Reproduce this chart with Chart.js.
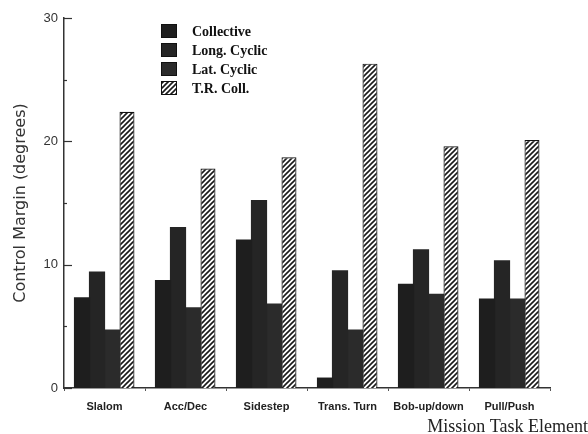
<!DOCTYPE html>
<html>
<head>
<meta charset="utf-8">
<script src="https://cdn.jsdelivr.net/npm/chart.js@4.4.1/dist/chart.umd.min.js"></script>
<style>
  html, body { margin: 0; padding: 0; background: #fff; }
  canvas { display: block; }
</style>
</head>
<body>
<canvas id="c" width="588" height="434"></canvas>
<script>
// Mission task elements and control margins (degrees) per control axis
const tasks = ['Slalom', 'Acc/Dec', 'Sidestep', 'Trans. Turn', 'Bob-up/down', 'Pull/Push'];
const collective = [7.3, 8.7, 12.0, 0.8, 8.4, 7.2];
const longCyclic = [9.4, 13.0, 15.2, 9.5, 11.2, 10.3];
const latCyclic  = [4.7, 6.5, 6.8, 4.7, 7.6, 7.2];
const trColl     = [22.4, 17.8, 18.7, 26.3, 19.6, 20.1];
const labeledTicks = [0, 10, 20, 30];

const canvas = document.getElementById('c');
const ctx = canvas.getContext('2d');

// Diagonal hatch fill for the tail rotor collective bars
function makeHatch() {
  const s = 5;
  const tile = document.createElement('canvas');
  tile.width = s; tile.height = s;
  const g = tile.getContext('2d');
  g.fillStyle = '#ffffff';
  g.fillRect(0, 0, s, s);
  g.strokeStyle = '#1a1a1a';
  g.lineWidth = 1.6;
  g.beginPath();
  g.moveTo(-1, s + 1); g.lineTo(s + 1, -1);
  g.moveTo(-1, 1); g.lineTo(1, -1);
  g.moveTo(s - 1, s + 1); g.lineTo(s + 1, s - 1);
  g.stroke();
  return ctx.createPattern(tile, 'repeat');
}
const hatch = makeHatch();

// Tick marks pointing into the plot on the value axis
const innerTicks = {
  id: 'innerTicks',
  afterDraw(chart) {
    const s = chart.scales.y;
    const c = chart.ctx;
    const x0 = s.right;
    c.save();
    c.strokeStyle = '#333';
    c.lineWidth = 1.2;
    s.ticks.forEach(t => {
      const y = Math.round(s.getPixelForValue(t.value)) + 0.5;
      const len = labeledTicks.includes(t.value) ? 8 : 3;
      c.beginPath();
      c.moveTo(x0, y);
      c.lineTo(x0 + len, y);
      c.stroke();
    });
    c.restore();
  }
};

// Legend drawn inside the plot area
const insetLegend = {
  id: 'insetLegend',
  afterDraw(chart) {
    const c = chart.ctx;
    const left = chart.chartArea.left + 97;
    const top = chart.chartArea.top + 13;
    c.save();
    chart.data.datasets.forEach((ds, i) => {
      const y = top + i * 19;
      c.fillStyle = ds.backgroundColor;
      c.fillRect(left, y - 7, 16, 14);
      c.strokeStyle = '#111';
      c.lineWidth = 1;
      c.strokeRect(left + 0.5, y - 6.5, 15, 13);
      c.fillStyle = '#111';
      c.font = 'bold 14px "Liberation Serif"';
      c.textBaseline = 'middle';
      c.textAlign = 'left';
      c.fillText(ds.label, left + 31, y + 1);
    });
    c.restore();
  }
};

new Chart(ctx, {
  type: 'bar',
  data: {
    labels: tasks,
    datasets: [
      { label: 'Collective',   data: collective, backgroundColor: '#1e1e1e', borderWidth: 0, inflateAmount: 0.6 },
      { label: 'Long. Cyclic', data: longCyclic, backgroundColor: '#252525', borderWidth: 0, inflateAmount: 0.6 },
      { label: 'Lat. Cyclic',  data: latCyclic,  backgroundColor: '#2b2b2b', borderWidth: 0, inflateAmount: 0.6 },
      { label: 'T.R. Coll.',   data: trColl,     backgroundColor: hatch, borderColor: '#111', borderWidth: 1.2 }
    ]
  },
  options: {
    responsive: false,
    animation: false,
    layout: { padding: { top: 18, left: 0, right: 0, bottom: 0 } },
    datasets: { bar: { categoryPercentage: 0.74, barPercentage: 1 } },
    scales: {
      x: {
        offset: true,
        grid: { display: true, drawOnChartArea: false, drawTicks: true, tickLength: 3, color: '#555', offset: true },
        border: { display: true, color: '#333', width: 1.5 },
        ticks: {
          padding: 9, color: '#222', maxRotation: 0, autoSkip: false,
          font: { family: '"Liberation Sans"', weight: 'bold', size: 11 }
        },
        afterFit(s) { s.height = 31.6; }
      },
      y: {
        min: 0, max: 30,
        grid: { display: false, drawTicks: false },
        border: { display: true, color: '#333', width: 1.5 },
        ticks: {
          stepSize: 5, padding: 6, color: '#333',
          font: { family: '"Liberation Sans"', size: 13 },
          callback: v => (labeledTicks.includes(v) ? v : '')
        },
        title: {
          display: true, text: 'Control Margin (degrees)', color: '#333',
          font: { family: '"DejaVu Sans"', size: 16 },
          padding: { top: 11, bottom: 0 }
        },
        afterFit(s) { s.width = 64; }
      },
      yRight: {
        position: 'right', display: true,
        grid: { display: false, drawTicks: false },
        border: { display: false },
        ticks: { display: false },
        afterFit(s) { s.width = 38; }
      }
    },
    plugins: {
      legend: { display: false },
      tooltip: { enabled: false },
      title: {
        display: true, position: 'bottom', align: 'end',
        text: 'Mission Task Element', color: '#222',
        font: { family: '"Liberation Serif"', size: 18, weight: 'normal', lineHeight: 0.8 },
        padding: { top: 0, bottom: 0 }
      }
    }
  },
  plugins: [innerTicks, insetLegend]
});
</script>
</body>
</html>
